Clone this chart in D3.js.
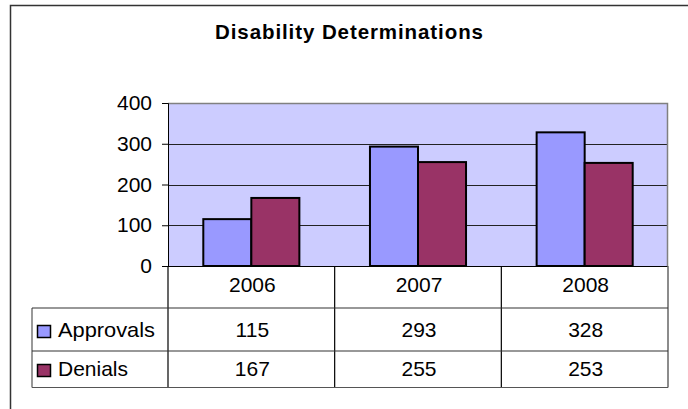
<!DOCTYPE html>
<html><head><meta charset="utf-8">
<script src="https://cdn.jsdelivr.net/npm/d3@7"></script>
<style>html,body{margin:0;padding:0;background:#fff;overflow:hidden}</style>
</head><body>
<script>
const title = "Disability Determinations";
const categories = ["2006", "2007", "2008"];
const seriesNames = ["Approvals", "Denials"];
const approvals = [115, 293, 328];
const denials = [167, 255, 253];
const yTicks = [0, 100, 200, 300, 400];
const colors = ["#9999FF", "#993366"];

const W = 688, H = 409;
const svg = d3.select("body").append("svg").attr("width", W).attr("height", H);
const font = "Liberation Sans, Arial, sans-serif";
const fs = 21;

// outer chart border (top + left visible)
svg.append("path").attr("d", "M10.5,409 L10.5,5.5 L688,5.5").attr("fill", "none").attr("stroke", "#333").attr("stroke-width", 1.5);

svg.append("text").attr("x", 349).attr("y", 39).attr("text-anchor", "middle")
  .attr("font-family", font).attr("font-weight", "bold").attr("font-size", 20.5)
  .attr("textLength", 268).attr("lengthAdjust", "spacing").text(title);

const plot = {l: 168, r: 668, t: 103, b: 266};
const x = d3.scaleBand().domain(categories).range([plot.l, plot.r]);
const xs = d3.scaleBand().domain(seriesNames).range([0, x.bandwidth()]).paddingOuter(0.735).paddingInner(0);
const y = d3.scaleLinear().domain([0, 400]).range([plot.b, plot.t]);

svg.append("rect").attr("x", plot.l).attr("y", plot.t).attr("width", plot.r - plot.l).attr("height", plot.b - plot.t).attr("fill", "#CCCCFF");

// gridlines
svg.append("g").selectAll("line").data(yTicks.filter(d => d > 0 && d < 400)).join("line")
  .attr("x1", plot.l).attr("x2", plot.r).attr("y1", d => Math.round(y(d)) + 0.5).attr("y2", d => Math.round(y(d)) + 0.5)
  .attr("stroke", "#222").attr("stroke-width", 1);
// plot border top/right gray
svg.append("path").attr("d", `M${plot.l},${plot.t + 0.5} L${plot.r - 0.5},${plot.t + 0.5} L${plot.r - 0.5},${plot.b}`)
  .attr("fill", "none").attr("stroke", "#808080").attr("stroke-width", 1.5);

// bars
const seriesData = [approvals, denials];
seriesNames.forEach((s, si) => {
  svg.append("g").selectAll("rect").data(categories).join("rect")
    .attr("x", c => x(c) + xs(s)).attr("width", xs.bandwidth())
    .attr("y", (c, i) => y(seriesData[si][i])).attr("height", (c, i) => plot.b - y(seriesData[si][i]))
    .attr("fill", colors[si]).attr("stroke", "#000").attr("stroke-width", 2);
});

// y axis
const yAxis = d3.axisLeft(y).tickValues(yTicks).tickSize(6).tickPadding(10);
const ga = svg.append("g").attr("transform", `translate(${plot.l},0)`).call(yAxis);
ga.select(".domain").attr("stroke", "#000");
ga.selectAll(".tick line").attr("stroke", "#000");
ga.selectAll("text").attr("font-family", font).attr("font-size", fs).attr("fill", "#000");

// x axis line
svg.append("line").attr("x1", plot.l).attr("x2", plot.r).attr("y1", plot.b + 0.5).attr("y2", plot.b + 0.5).attr("stroke", "#000");

// data table
const rows = {hTop: 266, r1: 308, r2: 351, bottom: 387.5};
const tLeft = 32;
const g = svg.append("g").attr("stroke", "#000").attr("stroke-width", 1.2);
const bounds = [plot.l, ...categories.map(c => x(c) + x.bandwidth())];
bounds.forEach((bx, i) => {
  g.append("line").attr("x1", bx).attr("x2", bx).attr("y1", rows.hTop).attr("y2", rows.bottom)
    .attr("stroke", i === bounds.length - 1 ? "#666" : "#000").attr("stroke-width", i === bounds.length - 1 ? 1.5 : 1.2);
});
g.append("line").attr("x1", tLeft).attr("x2", tLeft).attr("y1", rows.r1).attr("y2", rows.bottom).attr("stroke", "#555");
[rows.r1, rows.r2, rows.bottom].forEach((ry, i) => {
  g.append("line").attr("x1", tLeft).attr("x2", plot.r).attr("y1", ry).attr("y2", ry).attr("stroke", i === 2 ? "#555" : "#333");
});

const txt = svg.append("g").attr("font-family", font).attr("font-size", fs).attr("fill", "#000");
txt.selectAll("text.cat").data(categories).join("text").attr("class", "cat")
  .attr("x", c => x(c) + x.bandwidth() / 2 + 1).attr("y", 292).attr("text-anchor", "middle").text(c => c);

const rowBase = [337, 376];
seriesNames.forEach((s, si) => {
  txt.selectAll("text.v" + si).data(categories).join("text").attr("class", "v" + si)
    .attr("x", c => x(c) + x.bandwidth() / 2 + 1).attr("y", rowBase[si]).attr("text-anchor", "middle")
    .text((c, i) => seriesData[si][i]);
  svg.append("rect").attr("x", 37.5).attr("y", rowBase[si] - 11.5).attr("width", 13).attr("height", 12)
    .attr("fill", colors[si]).attr("stroke", "#000").attr("stroke-width", 1.5);
  txt.append("text").attr("x", 58).attr("y", rowBase[si]).attr("textLength", 97).attr("lengthAdjust", "spacingAndGlyphs").text(s);
});
// fix Denials width proportionally (reference ~70px)
txt.selectAll("text").filter(function(){ return d3.select(this).text() === "Denials"; }).attr("textLength", 70);
</script>
</body></html>
